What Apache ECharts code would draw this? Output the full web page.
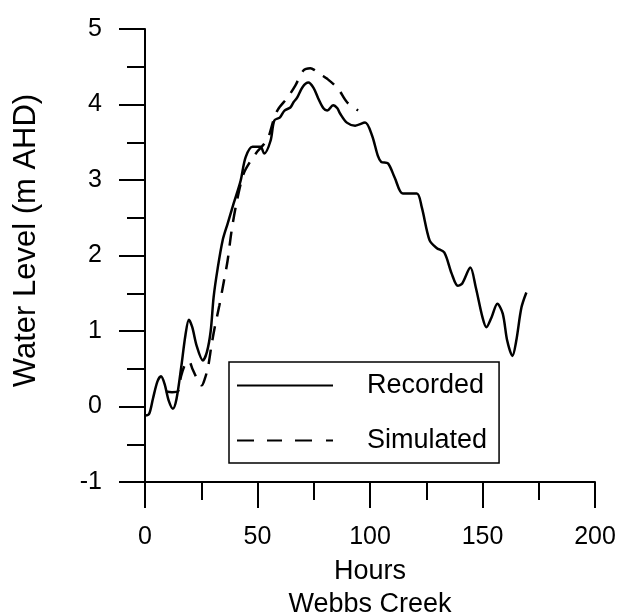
<!DOCTYPE html>
<html>
<head>
<meta charset="utf-8">
<script src="https://cdn.jsdelivr.net/npm/echarts@6/dist/echarts.min.js"></script>
<style>
html,body{margin:0;padding:0;background:#fff;}
#c{width:622px;height:615px;}
</style>
</head>
<body>
<div id="c"></div>
<script>
// Hours vs Water Level (m AHD), Webbs Creek
var recordedHours = [0, 1.8, 3.5, 5.5, 7.1, 8.7, 10.5, 12.4, 14, 16, 18, 19.5, 21, 23, 25.7, 27.5, 29.2, 30.5, 32.3, 34.5, 36.7, 39.4, 42.5, 44.7, 47.8, 51.3, 53, 55.8, 57.5, 60, 62, 64.6, 66, 67.6, 70, 72.6, 74.9, 77, 79.3, 81, 83.6, 85.5, 86.7, 89.7, 93.4, 97.8, 100.9, 103.5, 105, 108, 111, 114.6, 120.8, 123, 126.5, 129.6, 133, 136.3, 139, 141, 144.6, 147, 150, 151.7, 154, 156.6, 159, 161, 163.3, 165, 167.3, 169.5];
var recordedLevel = [-0.12, -0.1, 0.1, 0.33, 0.4, 0.3, 0.08, -0.03, 0.1, 0.5, 0.95, 1.15, 1.05, 0.8, 0.61, 0.72, 1.0, 1.45, 1.83, 2.2, 2.42, 2.69, 2.99, 3.3, 3.44, 3.44, 3.35, 3.52, 3.79, 3.83, 3.92, 3.96, 4.03, 4.09, 4.23, 4.29, 4.22, 4.08, 3.95, 3.92, 3.99, 3.95, 3.88, 3.76, 3.72, 3.76, 3.59, 3.32, 3.24, 3.22, 3.03, 2.82, 2.82, 2.64, 2.2, 2.1, 2.04, 1.76, 1.6, 1.63, 1.84, 1.58, 1.18, 1.05, 1.18, 1.36, 1.23, 0.87, 0.67, 0.87, 1.31, 1.51];
var simulatedHours = [9.3, 12, 14.6, 16, 18, 19.5, 21.2, 23.9, 25.2, 26.5, 28, 29.6, 31, 33, 35, 36.7, 38.5, 40.7, 43.8, 46.9, 50, 53, 55, 57, 59, 63.3, 66.8, 70.4, 73.5, 75.7, 78, 81, 85.8, 89.8, 94.7];
var simulatedLevel = [0.2, 0.19, 0.2, 0.4, 0.57, 0.6, 0.49, 0.32, 0.28, 0.36, 0.52, 0.82, 1.05, 1.33, 1.65, 1.93, 2.33, 2.7, 3.08, 3.25, 3.38, 3.48, 3.58, 3.78, 3.93, 4.09, 4.25, 4.45, 4.48, 4.45, 4.4, 4.34, 4.21, 4.03, 3.92];
var seriesNames = ['Recorded', 'Simulated'];
var xTitle = 'Hours';
var subTitle = 'Webbs Creek';
var yTitle = 'Water Level (m AHD)';

function pairs(xs, ys) { return xs.map(function (x, i) { return [x, ys[i]]; }); }

var FONT = "'Liberation Sans', Arial, Helvetica, sans-serif";
var SOLID_ICON = 'path://M0,0h96v2.2h-96z';
var DASH_ICON = 'path://M0,0h17v2.2h-17z M30,0h15v2.2h-15z M58,0h17v2.2h-17z M89,0h7v2.2h-7z';
var chart = echarts.init(document.getElementById('c'), null, {renderer: 'canvas'});
chart.setOption({
  animation: false,
  backgroundColor: '#ffffff',
  grid: {left: 145, top: 29, width: 450, height: 453, containLabel: false, outerBoundsMode: 'none'},
  xAxis: {
    type: 'value', min: 0, max: 200, interval: 50,
    name: xTitle + '\n' + subTitle,
    nameLocation: 'middle', nameGap: 63,
    nameTextStyle: {fontFamily: FONT, fontSize: 27, color: '#000', lineHeight: 33, verticalAlign: 'top'},
    axisLine: {show: true, onZero: false, lineStyle: {color: '#000', width: 2}},
    axisTick: {show: true, inside: false, length: 26, lineStyle: {color: '#000', width: 2}},
    minorTick: {show: true, splitNumber: 2, length: 18, lineStyle: {color: '#000', width: 2}},
    axisLabel: {margin: 43, fontFamily: FONT, fontSize: 25, color: '#000'},
    splitLine: {show: false}, minorSplitLine: {show: false}
  },
  yAxis: {
    type: 'value', min: -1, max: 5, interval: 1,
    name: yTitle, nameLocation: 'middle', nameGap: 103, nameRotate: 90,
    nameTextStyle: {fontFamily: FONT, fontSize: 31, color: '#000', padding: [0, 0, 0, 30]},
    axisLine: {show: true, onZero: false, lineStyle: {color: '#000', width: 2}},
    axisTick: {show: true, inside: false, length: 26, lineStyle: {color: '#000', width: 2}},
    minorTick: {show: true, splitNumber: 2, length: 18, lineStyle: {color: '#000', width: 2}},
    axisLabel: {margin: 43, fontFamily: FONT, fontSize: 25, color: '#000'},
    splitLine: {show: false}, minorSplitLine: {show: false}
  },
  legend: {
    show: true, orient: 'vertical', left: 229, top: 362,
    padding: [10, 12, 9, 8], itemGap: 28, itemWidth: 96, itemHeight: 20,
    borderColor: '#000', borderWidth: 1.5, backgroundColor: '#fff',
    textStyle: {fontFamily: FONT, fontSize: 27, color: '#000', padding: [0, 0, 0, 29]},
    data: [
      {name: seriesNames[0], icon: SOLID_ICON, itemStyle: {color: '#000', borderWidth: 0}},
      {name: seriesNames[1], icon: DASH_ICON, itemStyle: {color: '#000', borderWidth: 0}}
    ]
  },
  series: [
    {
      name: seriesNames[0], type: 'line', data: pairs(recordedHours, recordedLevel),
      symbol: 'none', smooth: 0.3, clip: true,
      lineStyle: {color: '#000', width: 2.5, type: 'solid'},
      itemStyle: {color: '#000'}
    },
    {
      name: seriesNames[1], type: 'line', data: pairs(simulatedHours, simulatedLevel),
      symbol: 'none', smooth: 0.3, clip: true,
      lineStyle: {color: '#000', width: 2.5, type: [14, 10]},
      itemStyle: {color: '#000'}
    }
  ]
});
</script>
</body>
</html>
